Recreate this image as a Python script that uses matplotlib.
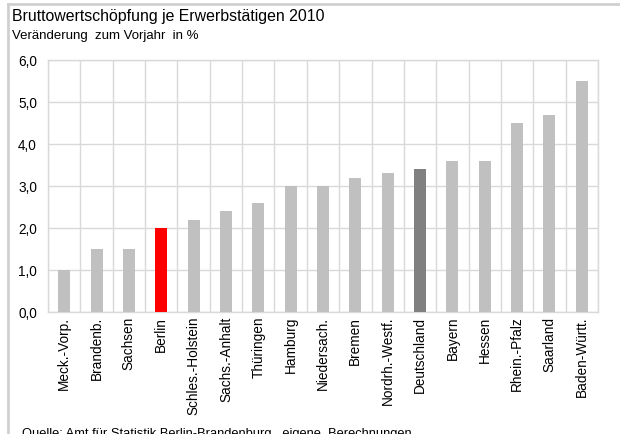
import numpy as np
import matplotlib
matplotlib.use("Agg")
import matplotlib.pyplot as plt
from matplotlib.lines import Line2D
from matplotlib.ticker import FuncFormatter, FixedLocator

plt.rcParams["font.family"] = ["Liberation Sans", "DejaVu Sans"]

LAENDER = [
    "Meck.-Vorp.", "Brandenb.", "Sachsen", "Berlin", "Schles.-Holstein",
    "Sachs.-Anhalt", "Thüringen", "Hamburg", "Niedersach.", "Bremen",
    "Nordrh.-Westf.", "Deutschland", "Bayern", "Hessen", "Rhein.-Pfalz",
    "Saarland", "Baden-Württ.",
]
VERAENDERUNG = [1.0, 1.5, 1.5, 2.0, 2.2, 2.4, 2.6, 3.0, 3.0, 3.2,
                3.3, 3.4, 3.6, 3.6, 4.5, 4.7, 5.5]

BAR_GREY = "#c0c0c0"
GRID_GREY = "#d9d9d9"
colors = []
for name in LAENDER:
    if name == "Berlin":
        colors.append("#ff0000")
    elif name == "Deutschland":
        colors.append("#808080")
    else:
        colors.append(BAR_GREY)

fig = plt.figure(figsize=(6.2, 4.34), dpi=100)
ax = fig.add_axes([48 / 620, 1 - 312 / 434, 550 / 620, 252 / 434])

x = np.arange(len(LAENDER))
ax.bar(x, VERAENDERUNG, width=0.37, color=colors, zorder=3)

ax.set_xlim(-0.5, len(LAENDER) - 0.5)
ax.set_ylim(0, 6)
ax.set_yticks(np.arange(0, 6.5, 1))
ax.yaxis.set_major_formatter(FuncFormatter(lambda v, _: f"{v:.1f}".replace(".", ",")))

ax.set_xticks(x)
ax.set_xticklabels(LAENDER, rotation=90, ha="center", va="top", fontsize=9.8)
ax.xaxis.set_minor_locator(FixedLocator(np.arange(-0.5, len(LAENDER), 1)))
ax.tick_params(axis="x", which="both", length=0, pad=3.5)
ax.tick_params(axis="y", length=0, pad=8, labelsize=9.8)

ax.grid(axis="y", which="major", color=GRID_GREY, linewidth=1, zorder=0)
ax.grid(axis="x", which="minor", color=GRID_GREY, linewidth=1, zorder=0)
for sp in ax.spines.values():
    sp.set_color(GRID_GREY)
    sp.set_linewidth(1)

# frame around the chart (top and left edges)
fig.add_artist(Line2D([8 / 620, 1], [1 - 4 / 434, 1 - 4 / 434], color="#d0d0d0", lw=2))
fig.add_artist(Line2D([8 / 620, 8 / 620], [0, 1 - 4 / 434], color="#d0d0d0", lw=2))

fig.text(12 / 620, 1 - 9 / 434, "Bruttowertschöpfung je Erwerbstätigen 2010",
         fontsize=11.4, va="top", ha="left")
fig.text(12 / 620, 1 - 30 / 434, "Veränderung  zum Vorjahr  in %",
         fontsize=9.5, va="top", ha="left")
fig.text(22 / 620, -3 / 434,
         "Quelle: Amt für Statistik Berlin-Brandenburg,  eigene  Berechnungen",
         fontsize=9.3, va="baseline", ha="left")

fig.savefig("out.png", dpi=100)
